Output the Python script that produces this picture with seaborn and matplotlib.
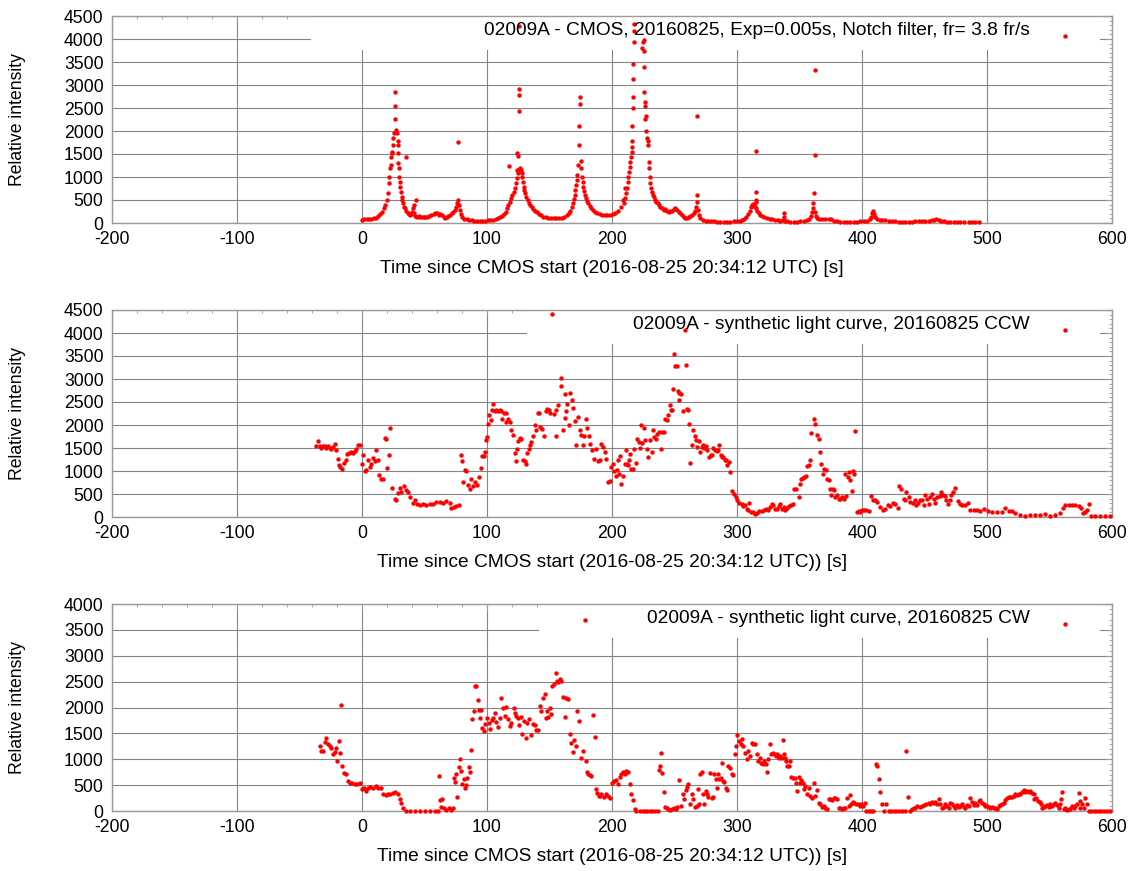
import matplotlib
matplotlib.use('Agg')
import matplotlib.pyplot as plt
from matplotlib.ticker import MultipleLocator
from matplotlib.patches import Rectangle
import seaborn as sns

# ─── Data ─────────────────────────────────────────────────────────────────────
cmos_t = [0, 1.9, 3.7, 5.6, 7.4, 9.3, 11.2, 12.8, 14.4, 16,
          17.6, 18.6, 19.7, 20.5, 21.3, 21.8, 22.3, 22.9, 23.4, 23.6,
          23.9, 24.5, 25, 25.5, 26, 26.2, 26.6, 27.1, 28, 28.5,
          28.8, 28.5, 28.7, 29.3, 29.8, 30.1, 30.6, 31.1, 31.6, 32.2,
          33, 33.8, 34.6, 35.4, 35.4, 36.4, 37.2, 38, 39.1, 39.9,
          40.7, 41.2, 41.5, 42.6, 43.1, 43.9, 45.2, 46.5, 47.9, 49.2,
          50.5, 51.9, 53.2, 55.3, 57.2, 58.5, 59.8, 61.2, 62.5, 63.8,
          65.2, 66.5, 67.8, 69.1, 70.5, 71.8, 73.1, 74.5, 75.5, 76.3,
          76.9, 77.1, 77.7, 78.5, 79.3, 80.3, 81.9, 83.8, 85.6, 87.8,
          89.9, 92, 94.1, 96.3, 98.4, 100.5, 102.7, 104.8, 106.9, 109,
          110.6, 112.2, 113.8, 114.9, 116, 117, 117.5, 118.1, 119.1, 120.2,
          121.3, 122.3, 123.1, 123.9, 124.5, 125, 123.7, 124.2, 125, 125.5,
          125.6, 125.8, 125.7, 126.3, 127.1, 127.7, 128.2, 128.7, 129.3, 129.8,
          130.6, 131.4, 132.4, 133.5, 134.6, 135.6, 137, 138.3, 139.9, 141.5,
          143.1, 144.9, 146.8, 148.9, 151.1, 153.2, 155.3, 157.4, 159.6, 161.7,
          163.6, 165.2, 166.5, 167.6, 168.6, 169.4, 170.2, 170.7, 171.3, 171.8,
          172.3, 172.9, 173.4, 173.6, 174.2, 174.3, 175.3, 175.5, 176.1, 176.6,
          177.1, 177.7, 178.5, 179.3, 180.1, 180.9, 182.2, 183.5, 185.1, 186.7,
          188.3, 190.2, 192, 194.1, 196.3, 198.4, 200.5, 202.7, 204.8, 206.9,
          208.8, 209.3, 210.1, 210.4, 211.2, 212, 212.5, 213.1, 213.6, 214.1,
          214.7, 215.2, 215.7, 216, 216, 216.3, 216.5, 216.6, 216.8, 216.9,
          217.3, 217.5, 217.8, 224.3, 224.8, 225.3, 225.3, 225.9, 225.3, 226.1,
          226.7, 226.9, 226.7, 227.5, 228, 228.5, 228.8, 229.3, 229.8, 230.1,
          230.7, 231.2, 231.7, 232.5, 233.3, 234.4, 235.5, 236.5, 237.6, 238.7,
          240, 241.3, 242.7, 244, 245.3, 246.7, 248, 249.3, 250.7, 252,
          253.3, 254.7, 256, 257.3, 258.7, 260, 261.3, 262.7, 264, 265.3,
          266.4, 267.2, 267.7, 268, 268, 268.5, 269.3, 270.7, 272.8, 274.9,
          277.1, 279.2, 281.3, 284, 286.7, 289.3, 292, 294.7, 297.3, 300,
          302.1, 304, 305.9, 307.5, 308.8, 310.1, 311.2, 312, 312.8, 313.6,
          314.4, 314.9, 315, 315.1, 315.3, 315.5, 316.3, 317.3, 318.7, 320,
          321.9, 324, 326.1, 328.3, 330.4, 332.5, 334.7, 336.8, 337.3, 337.6,
          338.4, 340, 342.7, 345.3, 348, 350.7, 353.3, 356, 357.6, 358.9,
          360, 360.5, 361.1, 361.3, 362.1, 362.2, 362.7, 362.9, 364, 365.6,
          368, 370.7, 373.3, 375.2, 377.3, 380, 382.7, 385.3, 388, 390.7,
          393.3, 396, 398.7, 401.3, 404, 406.1, 407.2, 408.3, 408.8, 409.6,
          410.7, 412, 414.1, 416.3, 418.7, 421.3, 424, 426.7, 429.3, 432,
          434.7, 437.3, 440, 442.7, 445.3, 448, 450.7, 453.3, 456, 457.9,
          459.5, 461.3, 463.2, 465.3, 468, 470.7, 473.3, 476, 478.7, 481.3,
          485.3, 488, 490.7, 493.3]
cmos_i = [65, 80, 87, 87, 94, 101, 116, 152, 196, 246,
          319, 391, 500, 645, 862, 1007, 1188, 1260, 1442, 1514,
          1550, 1700, 1850, 1960, 2250, 2850, 2540, 2030, 1960, 1700,
          1775, 1514, 1297, 1188, 1007, 898, 790, 681, 572, 500,
          428, 355, 319, 268, 1430, 225, 196, 174, 196, 246,
          319, 391, 225, 152, 500, 138, 152, 123, 138, 123,
          123, 138, 152, 174, 196, 225, 210, 174, 196, 174,
          123, 101, 123, 152, 174, 210, 246, 283, 355, 428,
          500, 1760, 391, 283, 196, 138, 94, 80, 65, 65,
          51, 51, 43, 51, 51, 65, 65, 65, 87, 101,
          123, 152, 196, 246, 319, 391, 1230, 464, 536, 609,
          681, 754, 862, 971, 1080, 1152, 1160, 1520, 1450, 2430,
          2790, 2920, 4280, 1200, 1152, 1080, 1007, 898, 790, 717,
          645, 572, 500, 442, 391, 355, 304, 268, 232, 196,
          167, 138, 123, 109, 101, 101, 101, 109, 116, 138,
          167, 210, 268, 341, 428, 514, 609, 717, 826, 935,
          1043, 1270, 1700, 2100, 2590, 2740, 1340, 1188, 1007, 898,
          790, 703, 609, 536, 478, 428, 370, 319, 275, 239,
          210, 188, 174, 167, 167, 181, 196, 225, 268, 355,
          500, 428, 754, 536, 645, 754, 898, 1007, 1116, 1225,
          1333, 1442, 1550, 1659, 1775, 2100, 2490, 2730, 3130, 3460,
          4170, 3940, 4330, 3800, 3930, 3980, 3730, 3390, 2840, 2620,
          2540, 2320, 2250, 1990, 1850, 1775, 1700, 1333, 1200, 1007,
          862, 754, 681, 609, 558, 500, 464, 428, 391, 355,
          319, 283, 297, 268, 246, 268, 261, 297, 319, 283,
          246, 210, 174, 138, 101, 116, 138, 152, 174, 210,
          268, 355, 464, 609, 2320, 283, 174, 101, 65, 51,
          43, 36, 36, 29, 29, 29, 29, 29, 36, 43,
          51, 65, 94, 138, 196, 268, 341, 391, 413, 391,
          355, 464, 500, 667, 1560, 319, 268, 225, 174, 152,
          123, 101, 87, 80, 65, 58, 51, 65, 225, 138,
          43, 36, 29, 29, 29, 36, 43, 65, 94, 152,
          246, 319, 428, 659, 246, 1470, 3330, 152, 101, 80,
          80, 87, 94, 80, 51, 36, 29, 29, 29, 29,
          29, 29, 36, 43, 51, 80, 138, 225, 268, 196,
          123, 87, 72, 65, 58, 51, 43, 36, 29, 29,
          29, 29, 29, 36, 36, 43, 43, 51, 58, 72,
          80, 58, 43, 36, 29, 22, 22, 22, 14, 14,
          14, 14, 14, 14]

ccw_t = [-36.5, -35.2, -33.9, -32.5, -31.2, -29.9, -28.5, -27.2, -25.9, -24.5,
         -23.2, -21.9, -21.1, -19.2, -18.4, -17.3, -16, -14.7, -13.1, -12,
         -10.4, -8.5, -7.2, -5.9, -4.5, -3.2, -1.3, 0, 0.8, 2.1,
         3.5, 4.8, 6.1, 7.5, 8.8, 10.1, 11.5, 12.8, 13.6, 15.5,
         16.8, 18.1, 18.9, 20, 21.6, 22.7, 24.3, 26.1, 27.5, 28.8,
         30.1, 31.5, 33.3, 34.9, 36.8, 38.7, 40.8, 42.1, 44, 46.1,
         48.8, 51.5, 54.1, 56.8, 59.5, 62.1, 64.8, 67.5, 70.1, 71.5,
         73.3, 75.5, 77.6, 78.9, 80, 80.8, 82.1, 83.5, 84.8, 86.1,
         87.5, 88.8, 90.7, 92, 93.6, 95.5, 95.6, 97.3, 98.1, 98.9,
         100, 100.8, 101.6, 102.9, 104, 104.8, 106.1, 107.5, 108.8, 110.1,
         111.5, 112.3, 113.3, 114.9, 115.5, 116.8, 118.1, 119.5, 120.8, 122.1,
         122.9, 124, 124.8, 126.1, 127.5, 128.8, 130.1, 130.9, 132, 133.6,
         134.7, 135.5, 136.8, 138.1, 139.5, 140.8, 141.6, 142.7, 144.3, 145.6,
         146.9, 148, 149.6, 150.7, 152.3, 153.3, 154.9, 155.5, 156.8, 158.9,
         159.5, 160.8, 162.1, 162.7, 163.5, 164.3, 165.6, 166.7, 167.7, 168.8,
         170.1, 171.5, 172.8, 174.1, 175.5, 176.8, 177.6, 178.9, 180, 181.3,
         182.7, 184.3, 185.3, 186.9, 188.8,
         190.1, 191.4, 192.8, 194.1, 195.5, 196.8, 198.1, 199.5, 200.8, 201.3,
         202.9, 204, 204.8, 205.6, 206.7, 207.5, 208.8, 210.2, 211, 212,
         212.8, 213.6, 214.7, 215.5, 216.8, 217.6, 219, 220.1, 221.4, 222.7,
         223.5, 224.3, 225.7, 226.7, 228.1, 228.9, 230.2, 231.6, 232.4, 233.7,
         235, 236.1, 237.7, 239, 239.8, 241.4, 242.5, 243.6, 244.9, 246.3,
         246.8, 247.6, 248.4, 249.5, 250.3, 251.6, 252.7, 253.5, 253.7, 254.8,
         256.4, 258.3, 259.1, 260.2, 261, 261.8, 262.3, 263.6, 265, 266.3,
         267.1, 268.2, 269.5, 270.3, 271.7, 273, 273.8, 275.1, 276.2, 277.5,
         278.9, 280.2, 281, 282.4, 283.7, 285, 285.8, 286.9, 288, 289,
         290.4, 291.2, 292.2, 293.6, 294.4, 296, 297.6, 299.2, 300.3, 301.9,
         303.7, 305, 306.4, 307.8, 309.1, 309.9, 311, 312.6, 314.4, 315.8,
         317.9, 319.8, 321.7, 323, 324.6, 326.5, 327.8, 329.1, 330.5, 331.8,
         333.2, 334.5, 335.8, 337.2, 338.5, 339.8, 341.4, 343, 344.7, 345.7,
         347.3, 349.2, 350, 351.3, 352.7, 353.7, 355.3, 355.9, 357.2, 358,
         359.4, 361.2, 362.6, 363.9, 365.2, 366, 367.4, 368.7, 369.8, 371.1,
         371.9, 373.3, 374.1, 375.1, 376.5, 377.3, 378.6, 380, 381.3, 382.6,
         384, 385.3, 386.6, 387.4, 388.5, 389.6, 390.6, 392, 392.8, 393.9,
         394.7, 396, 397.3, 398.7, 400, 401.3, 403.2, 405.3, 407.2, 408.8,
         410.7, 412,
         414.7, 416.8, 418.7, 420.5, 422.7, 424.8, 426.7, 428.5, 429.9, 431.5,
         433.3, 434.7, 435.5, 437.3, 438.7, 440.5, 442.1, 443.5, 444.8, 446.1,
         448, 449.3, 450.7, 452, 453.3, 454.7, 456, 457.3, 458.7, 460,
         462.1, 463.5, 464.8, 466.1, 467.5, 468.8, 470.1, 471.5, 472.8, 474.7,
         476.5, 478.1, 480, 482.7, 484.5, 486.7, 489.3, 492, 494.7, 497.9,
         500.5, 504, 508, 512, 514.7, 517.3, 520, 522.7, 526.7, 530.7,
         534.7, 538.7, 542.7, 546.7, 550.7, 554.7, 558.7, 560.8, 562.7, 565.3,
         568, 570.7, 573.3, 575.2, 576.8, 578.7, 580, 581.3, 583.2, 586.7,
         590.7, 594.7, 598.7]
ccw_i = [1536, 1645, 1536, 1507, 1543, 1536, 1507, 1536, 1507, 1486,
         1522, 1594, 1449, 1268, 1123, 1087, 1051, 1174, 1246, 1362,
         1391, 1413, 1391, 1428, 1471, 1558, 1572, 1159, 1340, 993,
         1014, 1232, 1087, 1159, 1283, 1210, 1464, 1232, 906, 833,
         819, 1717, 1688, 1065, 1355, 1935, 630, 399, 377, 522,
         630, 543, 667, 580, 543, 435, 304, 362, 290, 268,
         290, 254, 275, 290, 326, 326, 312, 341, 312, 196,
         217, 239, 254, 1355, 1210, 761, 1014, 993, 688, 601,
         833, 667, 761, 688, 870, 1072, 1326, 1326, 1413, 1681,
         1739, 2014, 2210, 2101, 2333, 2464, 2304, 2333, 2304, 2319,
         2304, 2138, 2261, 2261, 2065, 2138, 2065, 1899, 1775, 1391,
         1217, 1486, 1645, 1717, 1688, 1246, 1210, 1159, 1391, 1486,
         1558, 1630, 1754, 2007, 1899, 2268, 2268, 1957, 1920, 1754,
         2304, 2355, 2333, 2261, 4406, 2246, 1754, 2333, 2428, 2848,
         3029, 1899, 2152, 2667, 2304, 2464, 1993, 2696, 2536, 2377,
         2080, 1558, 2174, 1884, 1775, 1572, 1754, 2138, 1935, 1754,
         1594, 1449, 1268, 1486, 1210,
         1232, 1594, 1522, 1413, 1268, 761, 783, 1087, 1159, 993,
         884, 1014, 1246, 942, 1319, 725, 884, 1145, 1464, 1159,
         1123, 1232, 1362, 1051, 1051, 1486, 1174, 1703, 1630, 1500,
         2007, 1609, 1935, 1681, 1486, 1304, 1667, 1413, 1884, 1739,
         1703, 1797, 1848, 1486, 1848, 1848, 2138, 2116, 2210, 2428,
         2333, 2333, 2790, 3551, 3275, 3275, 2732, 2696, 2536, 2667,
         2304, 4058, 3297, 2355, 2333, 2014, 1174, 1572, 1899, 1754,
         1667, 1522, 1652, 1413, 1522, 1558, 1500, 1536, 1449, 1304,
         1341, 1341, 1507, 1449, 1428, 1449, 1558, 1355, 1304, 1304,
         1246, 1232, 1123, 1196, 978, 565, 507, 435, 377, 304,
         290, 232, 254, 181, 145, 304, 109, 109, 72, 87,
         130, 130, 145, 181, 159, 217, 290, 254, 181, 167,
         232, 290, 181, 217, 159, 203, 239, 254, 290, 616,
         616, 435, 725, 833, 855, 870, 884, 1101, 1123, 1246,
         1826, 2138, 2014, 1775, 1703, 1413, 1159, 942, 1051, 1014,
         833, 797, 616, 471, 616, 580, 435, 471, 399, 399,
         435, 399, 942, 449, 870, 978, 797, 558, 993, 942,
         1862, 109, 130, 109, 145, 159, 145, 130, 457, 362,
         362, 326,
         217, 145, 181, 254, 232, 304, 275, 203, 667, 616,
         399, 362, 543, 435, 326, 304, 362, 254, 304, 362,
         377, 254, 471, 399, 290, 435, 493, 399, 304, 435,
         449, 543, 471, 449, 362, 290, 362, 471, 543, 630,
         348, 290, 254, 254, 304, 159, 145, 145, 130, 167,
         130, 109, 109, 109, 203, 130, 130, 87, 36, 22,
         51, 36, 51, 72, 22, 36, 87, 203, 254, 254,
         254, 254, 232, 203, 87, 109, 145, 290, 14, 22,
         22, 22, 22]

cw_t = [-33.9, -32.5, -31.2, -29.9, -28.5, -27.2, -25.9, -24.5, -23.2, -21.9,
        -20.5, -20, -18.7, -17.9, -16.5, -15.7, -14.7, -13.1, -11.2, -9.9,
        -7.7, -5.9, -4, -1.9, 0, 1.6, 2.9, 4.8, 6.7, 8.8,
        10.9, 12.8, 14.9, 16.8, 18.9, 20.8, 22.7, 24.8, 26.7, 28.8,
        30.7, 31.5, 32.8, 34.9, 38.1, 42.1, 46.1, 50.1, 54.1, 58.1,
        60.8, 61.6, 62.7, 63.5, 64.3, 65.3, 67.5, 69.6, 71.5, 72.8,
        73.6, 74.7, 75.5, 76.3, 77.3, 78.1, 79.5, 80.3, 81.3, 82.1,
        83.5, 84.3, 85.3, 86.1, 87.5, 88.3, 89.3, 90.4, 91.5, 92.5,
        93.6, 94.1, 95.5, 96.3, 97.3, 98.7, 100, 101.6, 102.7, 103.7,
        104.8, 106.4, 107.5, 108.8, 110.1, 111.5, 112.8, 114.1, 115.5, 116.8,
        118.1, 119.5, 121.3, 122.1, 123.5, 124.8, 125.6, 126.9, 128.3, 129.3,
        130.9, 132.3, 133.6, 135.5, 136.8, 138.1, 139.5, 140.8, 142.1, 143.5,
        144.8, 146.1, 146.9, 148, 149.1, 150.1, 150.9, 152.3, 153.3, 154.9,
        156, 157.1, 158.1, 159.5, 160.8, 162.1, 163.5, 164.8, 166.1, 167.5,
        168.8, 169.6, 170.9, 172.3, 173.6, 175.5, 176.8, 178.1, 178.9, 180,
        181.1, 182.1, 183.5, 184.8, 186.1, 186.9, 188.3, 189.3,
        190.1, 191.4, 193.3, 194.9, 196.8, 198.7, 200, 201.3, 202.9, 204.8,
        206.1, 207.5, 208.8, 210.2, 211.5, 212.8, 214.2, 215.5, 216.8, 218.2,
        219.5, 222.2, 224.5, 226.2, 228, 230.2, 232, 234.2, 236.9, 237.4,
        238.2, 239, 240.1, 241.4, 242.2, 243.6, 244.9, 246.3, 247.6, 249.5,
        251.1, 252.1, 253.5, 254.8, 256.4, 257.5, 258.8, 260.2, 261, 262.3,
        263.6, 265, 266.3, 267.6, 268.4, 269.5, 270.3, 271.7, 273, 273.8,
        275.1, 276.2, 277, 278.3, 279.7, 281, 281.8, 283.1, 284.2, 285,
        285.8, 286.9, 287.7, 288.5, 289.6, 290.9, 291.7, 293, 294.4, 296,
        297.1, 298.4, 299.2, 300.3, 301.9, 302.9, 304, 305.1, 306.4, 307.8,
        309.1, 310.4, 311.8, 313.1, 314.4, 315.8, 317.1, 318.4, 319.5, 320.6,
        321.7, 323, 323.8, 325.1, 326.5, 327.3, 328.6, 329.7, 331, 331.8,
        333.2, 334.5, 335.8, 336.4, 337.7, 338.5, 339.3, 339.8, 341.2, 342.5,
        343.3, 344.7, 346, 346.8, 347.9, 349.2, 350.5, 351.3, 352.7, 353.7,
        354.5, 355.9, 357.2, 358.6, 359.9, 361.2, 362.6, 363.9, 365.2, 366.6,
        367.9, 369.3, 370.6, 371.9, 373.3, 374.6, 375.9, 377.3, 378.6, 379.9,
        381.3, 382.6, 384, 385.3, 386.6, 388, 389.3, 390.1, 391.2, 392.5,
        393.9, 395.2, 396.5, 398.1, 399.5, 400.8, 402.1, 403.5, 405.3, 407,
        409, 411, 412, 413.4,
        414.7, 416, 417.5, 419.5, 421.3, 423.5, 425.3, 427.5, 429.3, 432,
        434.7, 435.5, 436.5, 438.7, 440, 441.3, 442.7, 444, 446.1, 448,
        449.3, 451.5, 453.3, 454.7, 456, 457.3, 458.7, 460, 461.3, 462.7,
        464, 465.3, 466.7, 468, 469.3, 470.7, 472, 473.3, 474.7, 476,
        477.3, 478.7, 480, 481.3, 482.7, 484, 485.3, 486.7, 488, 489.3,
        490.7, 492, 493.3, 494.7, 496, 497.3, 498.7, 500, 501.3, 502.7,
        504, 505.3, 506.7, 508, 509.3, 510.7, 512, 513.3, 514.7, 516,
        517.3, 518.7, 520, 521.3, 522.7, 524, 525.3, 526.7, 528, 529.3,
        530.7, 532, 533.3, 534.7, 536, 537.3, 537.9, 539.5, 540.5, 542.1,
        543.2, 544, 545.3, 546.7, 548, 549.3, 550.7, 552, 553.3, 554.7,
        556, 557.3, 558.7, 559.2, 560, 561.3, 562.7, 564, 565.3, 566.7,
        568, 569.3, 570.7, 572, 573.3, 574.1, 574.7, 576, 577.3, 578.7,
        580, 581.3, 583, 585.3, 587, 589.3, 591, 593.3, 596, 598.7]
cw_i = [1258, 1161, 1161, 1335, 1419, 1290, 1258, 1226, 1097, 1148,
        1226, 968, 1355, 1129, 2045, 871, 742, 710, 581, 548,
        548, 529, 516, 548, 432, 452, 387, 452, 465, 439,
        484, 452, 452, 323, 303, 323, 335, 342, 368, 335,
        239, 161, 52, 0, 0, 0, 0, 0, 0, 0,
        0, 677, 213, 77, 226, 52, 13, 52, 13, 52,
        632, 561, 710, 277, 852, 1013, 774, 516, 613, 452,
        497, 645, 852, 755, 1174, 1787, 1935, 2406, 2406, 2142,
        1955, 1794, 1955, 1613, 1548, 1677, 1806, 1710, 1594, 1755,
        1794, 1903, 1729, 1626, 1794, 2174, 1981, 1839, 2013, 1774,
        1645, 1710, 2000, 1903, 1839, 1806, 1665, 1826, 1497, 1742,
        1419, 1710, 1774, 1471, 1677, 1658, 1561, 1568, 2032, 1935,
        2181, 2258, 1806, 1935, 1819, 2000, 1884, 2419, 2452, 2658,
        2516, 2484, 2548, 2503, 2206, 1819, 2174, 2161, 1484, 1323,
        1148, 1368, 1258, 1923, 1742, 1032, 1161, 3690, 968, 761,
        723, 697, 677, 1858, 1432, 419, 355, 290,
        290, 323, 271, 323, 290, 258, 548, 581, 594, 516,
        665, 710, 761, 723, 774, 761, 516, 323, 206, 32,
        0, 0, 0, 0, 0, 0, 0, 0, 0, 794,
        871, 1116, 729, 374, 77, 52, 45, 13, 32, 52,
        32, 77, 606, 97, 323, 226, 400, 465, 529, 129,
        323, 226, 77, 97, 432, 129, 710, 755, 323, 142,
        387, 323, 271, 742, 258, 271, 710, 613, 452, 723,
        613, 645, 923, 581, 561, 452, 406, 871, 839, 710,
        690, 1110, 1258, 1465, 1355, 1290, 1387, 1258, 1129, 1000,
        1161, 1065, 1310, 1290, 1290, 1097, 968, 1032, 935, 903,
        968, 903, 755, 1000, 1303, 1097, 1129, 1097, 1065, 1097,
        1032, 1065, 1032, 1368, 1097, 1032, 968, 871, 871, 968,
        658, 645, 645, 548, 387, 658, 548, 594, 548, 419,
        484, 335, 439, 290, 245, 548, 290, 400, 148, 129,
        77, 97, 65, 32, 226, 226, 206, 258, 258, 226,
        52, 52, 32, 65, 52, 258, 97, 303, 129, 174,
        161, 129, 129, 97, 129, 97, 161, 0, 0, 0,
        0, 903, 871, 626,
        374, 142, 0, 142, 0, 0, 0, 0, 0, 0,
        0, 1161, 277, 0, 32, 65, 65, 97, 77, 97,
        116, 142, 161, 129, 181, 161, 181, 142, 239, 129,
        65, 77, 129, 97, 52, 161, 129, 97, 65, 116,
        77, 97, 142, 77, 52, 116, 97, 258, 181, 116,
        161, 116, 194, 206, 161, 129, 97, 97, 77, 52,
        77, 65, 52, 32, 97, 116, 142, 161, 206, 258,
        271, 277, 271, 290, 323, 310, 323, 335, 368, 400,
        374, 387, 374, 387, 355, 323, 226, 258, 194, 181,
        129, 52, 77, 97, 116, 77, 129, 97, 142, 161,
        116, 52, 129, 239, 374, 32, 52, 13, 32, 32,
        97, 52, 97, 142, 355, 65, 194, 129, 52, 258,
        129, 0, 0, 0, 0, 0, 0, 0, 0, 0]

titles = ["02009A - CMOS, 20160825, Exp=0.005s, Notch filter, fr= 3.8 fr/s",
          "02009A - synthetic light curve, 20160825 CCW",
          "02009A - synthetic light curve, 20160825 CW"]
xlabels = ["Time since CMOS start (2016-08-25 20:34:12 UTC) [s]",
           "Time since CMOS start (2016-08-25 20:34:12 UTC)) [s]",
           "Time since CMOS start (2016-08-25 20:34:12 UTC)) [s]"]
ymaxes = [4500, 4500, 4000]
x_ticks = list(range(-200, 601, 100))

# ─── Style ────────────────────────────────────────────────────────────────────
sns.set_theme(style="white")
plt.rcParams['font.family'] = ['Liberation Sans', 'DejaVu Sans']
plt.rcParams['axes.unicode_minus'] = False
FS_TICK = 12.7
FS_TEXT = 13.8
GRID = '#858585'
BORDER = '#9a9a9a'

fig = plt.figure(figsize=(11.36, 8.71), dpi=100)
W, H = 1136, 871

# pixel boxes of the three panels (top, bottom) and the key box left edge
panel_px = [(16, 223, 311), (310, 517, 527), (604, 811, 539)]
series = [(cmos_t, cmos_i), (ccw_t, ccw_i), (cw_t, cw_i)]

for k, ((top, bot, key_left), (tt, vv)) in enumerate(zip(panel_px, series)):
    ax = fig.add_axes([112 / W, 1 - bot / H, 1000 / W, (bot - top) / H])
    ymax = ymaxes[k]

    sns.scatterplot(x=tt, y=vv, ax=ax, color='#ff0000', s=10, linewidth=0,
                    zorder=3, legend=False, clip_on=False)

    ax.set_xlim(-200, 600)
    ax.set_ylim(0, ymax)
    ax.set_xticks(x_ticks)
    ax.set_yticks(list(range(0, ymax + 1, 500)))
    ax.xaxis.set_minor_locator(MultipleLocator(20))
    ax.yaxis.set_minor_locator(MultipleLocator(100))
    ax.tick_params(which='both', direction='in', top=True, right=True,
                   color=BORDER, labelsize=FS_TICK, labelcolor='black')
    ax.tick_params(which='major', length=5, width=0.8, pad=6)
    ax.tick_params(which='minor', length=2.5, width=0.6)
    ax.set_axisbelow(True)
    ax.grid(True, which='major', color=GRID, linewidth=0.8)
    for sp in ax.spines.values():
        sp.set_color(BORDER)
        sp.set_linewidth(1.0)

    # opaque key box hides the grid behind the legend text
    kx0 = (key_left - 112) / 1000
    ky0 = (bot - (top + 34)) / (bot - top)
    ax.add_patch(Rectangle((kx0, ky0), 0.988 - kx0, 1 - ky0, transform=ax.transAxes,
                           facecolor='white', edgecolor='none', zorder=1))
    ax.text(0.918, 0.93, titles[k], transform=ax.transAxes, ha='right', va='center',
            fontsize=FS_TEXT, color='black', zorder=4)
    ax.scatter([0.953], [0.905], transform=ax.transAxes, color='#ff0000', s=10,
               linewidths=0, zorder=4)

    ax.set_ylabel("Relative intensity", fontsize=FS_TICK, color='black')
    ax.yaxis.set_label_coords(-0.086, 0.5)
    ax.set_xlabel(xlabels[k], fontsize=FS_TEXT, color='black')
    ax.xaxis.set_label_coords(0.5, -0.18)

fig.savefig("out.png", dpi=100)
